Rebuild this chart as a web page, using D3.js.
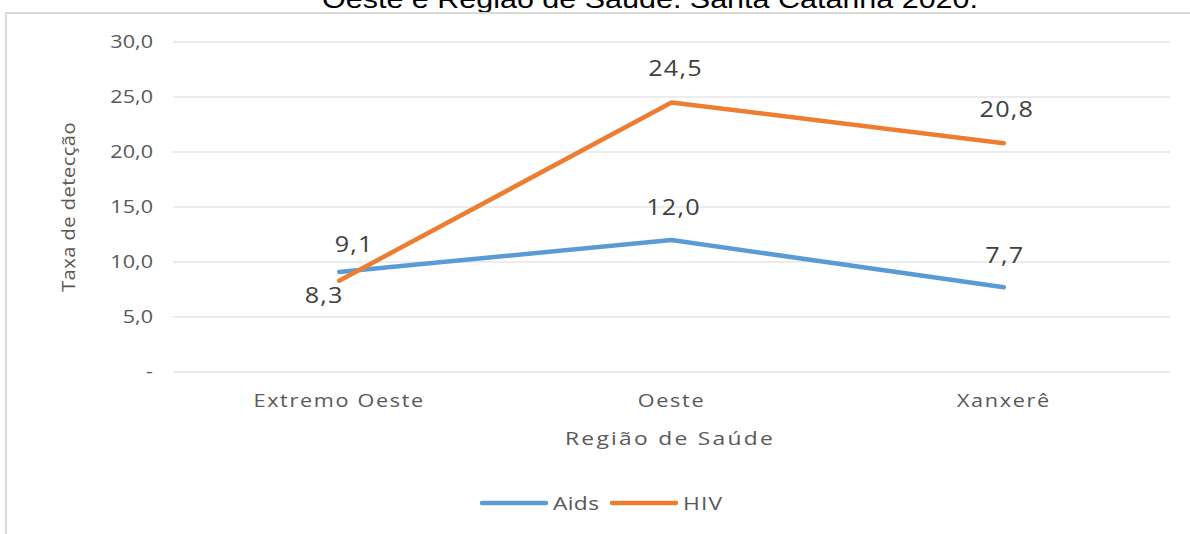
<!DOCTYPE html>
<html>
<head>
<meta charset="utf-8">
<script src="https://cdn.jsdelivr.net/npm/d3@7"></script>
<style>
  body { margin: 0; background: #fff; }
  svg { display: block; }
</style>
</head>
<body>
<div id="chart"></div>
<script>
const categories = ['Extremo Oeste', 'Oeste', 'Xanxerê'];
const aidsValues = [9.1, 12.0, 7.7];
const hivValues = [8.3, 24.5, 20.8];
const yTicks = [0, 5, 10, 15, 20, 25, 30];
const seriesNames = ['Aids', 'HIV'];

const width = 1190, height = 534;
const margin = { top: 42, right: 20, bottom: 162, left: 173 };
const font = '"Open Sans", sans-serif';
const grey = '#595959';

// the source text is drawn a little wider than the font
const stretch = (sel, origin) => sel
  .style('transform-box', 'fill-box')
  .style('transform-origin', origin)
  .style('transform', 'scaleX(1.2)');

const svg = d3.select('#chart').append('svg')
  .attr('width', width)
  .attr('height', height)
  .style('font-family', font);

// title (cut off at the top in the source)
svg.append('text')
  .attr('x', 650)
  .attr('y', 8)
  .attr('text-anchor', 'middle')
  .attr('font-family', '"Liberation Sans", Arial, sans-serif')
  .attr('font-size', 25)
  .attr('fill', '#000')
  .attr('textLength', 656)
  .attr('lengthAdjust', 'spacingAndGlyphs')
  .text('Oeste e Região de Saúde. Santa Catarina 2020.');

// chart frame
svg.append('path')
  .attr('d', `M6,${height} V13 H${width}`)
  .attr('fill', 'none')
  .attr('stroke', '#d9d9d9')
  .attr('stroke-width', 2);

const x = d3.scaleBand()
  .domain(categories)
  .range([margin.left, 1170]);

const y = d3.scaleLinear()
  .domain([0, 30])
  .range([372, margin.top]);

// grid
svg.append('g')
  .selectAll('line')
  .data(yTicks)
  .join('line')
  .attr('x1', margin.left)
  .attr('x2', 1170)
  .attr('y1', d => y(d))
  .attr('y2', d => y(d))
  .attr('stroke', '#d9d9d9')
  .attr('stroke-width', 1.2);

const fmt = d => d3.format('.1f')(d).replace('.', ',');

// y axis labels
const yAxis = svg.append('g')
  .attr('transform', `translate(${margin.left},0)`)
  .call(d3.axisLeft(y).tickValues(yTicks).tickSize(0).tickPadding(20)
    .tickFormat(d => d === 0 ? '-' : fmt(d)));
yAxis.select('.domain').remove();
yAxis.selectAll('text')
  .attr('font-size', 18)
  .attr('fill', grey)
  .attr('font-family', font)
  .call(stretch, 'right center');

// x axis labels
const xAxis = svg.append('g')
  .attr('transform', 'translate(0,372)')
  .call(d3.axisBottom(x).tickSize(0).tickPadding(22));
xAxis.select('.domain').remove();
xAxis.selectAll('text')
  .attr('font-size', 18)
  .attr('letter-spacing', 1.4)
  .attr('fill', grey)
  .attr('font-family', font)
  .call(stretch, 'center');

// axis titles
svg.append('text')
  .attr('transform', 'translate(75,207) rotate(-90) scale(1.12,1)')
  .attr('text-anchor', 'middle')
  .attr('font-size', 18)
  .attr('letter-spacing', 0.4)
  .attr('fill', grey)
  .text('Taxa de detecção');

svg.append('text')
  .attr('x', 670)
  .attr('y', 445)
  .attr('text-anchor', 'middle')
  .attr('font-size', 19)
  .attr('letter-spacing', 1.9)
  .attr('fill', grey)
  .text('Região de Saúde')
  .call(stretch, 'center');

const series = [
  { name: seriesNames[0], values: aidsValues, color: '#5b9bd5', labelDy: [-20, -25, -24], labelDx: [15, 2, 1] },
  { name: seriesNames[1], values: hivValues, color: '#ed7d31', labelDy: [22, -26, -26], labelDx: [-15, 4, 3] }
];

const line = d3.line()
  .x((d, i) => x(categories[i]) + x.bandwidth() / 2)
  .y(d => y(d));

series.forEach(s => {
  svg.append('path')
    .datum(s.values)
    .attr('d', line)
    .attr('fill', 'none')
    .attr('stroke', s.color)
    .attr('stroke-width', 4.5)
    .attr('stroke-linecap', 'round')
    .attr('stroke-linejoin', 'round');
});

series.forEach(s => {
  svg.append('g')
    .selectAll('text')
    .data(s.values)
    .join('text')
    .attr('x', (d, i) => x(categories[i]) + x.bandwidth() / 2 + s.labelDx[i])
    .attr('y', (d, i) => y(d) + s.labelDy[i])
    .attr('text-anchor', 'middle')
    .attr('font-size', 21)
    .attr('letter-spacing', 1)
    .attr('fill', '#404040')
    .text(fmt)
    .call(stretch, 'center');
});

// legend
const legend = svg.append('g').attr('transform', 'translate(480,503)');
const legendItems = [
  { name: seriesNames[0], color: '#5b9bd5', x: 0, ls: 0.3 },
  { name: seriesNames[1], color: '#ed7d31', x: 130, ls: 1 }
];
legendItems.forEach(it => {
  legend.append('line')
    .attr('x1', it.x + 2).attr('x2', it.x + 66)
    .attr('y1', 0).attr('y2', 0)
    .attr('stroke', it.color)
    .attr('stroke-width', 4.5)
    .attr('stroke-linecap', 'round');
  legend.append('text')
    .attr('x', it.x + 73)
    .attr('y', 7)
    .attr('font-size', 19)
    .attr('letter-spacing', it.ls)
    .attr('fill', grey)
    .text(it.name)
    .call(stretch, 'left center');
});
</script>
</body>
</html>
